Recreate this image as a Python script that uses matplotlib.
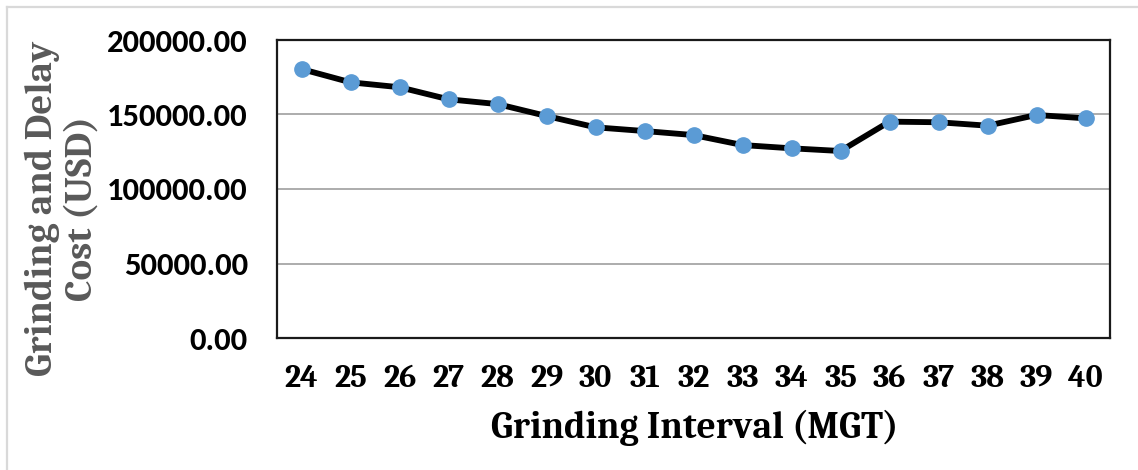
import matplotlib
matplotlib.use("Agg")
from matplotlib import pyplot as plt
from matplotlib.lines import Line2D

# Grinding interval (MGT) and total grinding + delay cost (USD)
intervals = [24, 25, 26, 27, 28, 29, 30, 31, 32, 33, 34, 35, 36, 37, 38, 39, 40]
cost = [180500, 171600, 168300, 160200, 157000, 149000, 141400, 138900,
        136200, 129500, 127300, 125500, 145200, 144800, 142500, 149700, 147400]
yticks = [0, 50000, 100000, 150000, 200000]

serif = ['Caladea', 'Liberation Serif', 'DejaVu Serif']
sans = ['Carlito', 'Lato', 'DejaVu Sans']

W, H = 1138, 470
fig = plt.figure(figsize=(W / 100., H / 100.), dpi=100)
ax = fig.add_axes([277. / W, 1 - 338. / H, (1110. - 277.) / W, (338. - 40.) / H])

xs = list(range(len(intervals)))
ax.plot(xs, cost, color='black', linewidth=4.2, marker='o', markersize=11,
        markerfacecolor='#5B9BD5', markeredgecolor='#5B9BD5', zorder=3,
        solid_joinstyle='round')

ax.set_xlim(-0.5, len(intervals) - 0.5)
ax.set_ylim(0, 200000)
ax.set_yticks(yticks)
ax.set_yticklabels(['{:.2f}'.format(v) for v in yticks], family=sans,
                   fontweight='bold', fontsize=23.5)
ax.set_xticks(xs)
ax.set_xticklabels([str(v) for v in intervals], family=serif,
                   fontweight='bold', fontsize=23)
ax.tick_params(axis='both', length=0)
ax.tick_params(axis='y', pad=21)
ax.tick_params(axis='x', pad=19)

ax.grid(axis='y', color='#A6A6A6', linewidth=1.3)
ax.set_axisbelow(True)
for s in ax.spines.values():
    s.set_color('#1a1a1a')
    s.set_linewidth(1.6)

fig.text(695. / W, 1 - 428. / H, 'Grinding Interval (MGT)', family=serif,
         fontweight='bold', fontsize=27, ha='center', va='center')
fig.text(62. / W, 1 - 208. / H, 'Grinding and Delay\nCost (USD)', family=serif,
         fontweight='bold', fontsize=28, color='#595959', rotation=90,
         ha='center', va='center', multialignment='center', linespacing=1.2)

# light chart-area border along the left and top edges
fig.add_artist(Line2D([7. / W, 7. / W], [0, 1 - 7. / H], transform=fig.transFigure,
                      color='#D9D9D9', linewidth=1.6))
fig.add_artist(Line2D([7. / W, 1], [1 - 7. / H, 1 - 7. / H], transform=fig.transFigure,
                      color='#D9D9D9', linewidth=1.6))

fig.savefig('out.png', dpi=100)
